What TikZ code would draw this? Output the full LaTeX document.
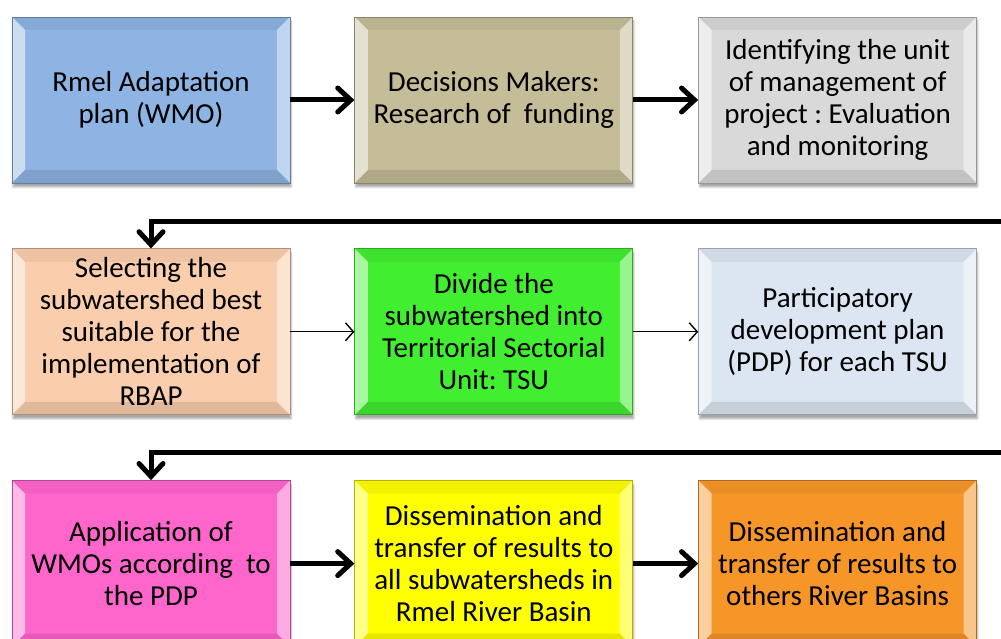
\documentclass[tikz,border=0pt]{standalone}
\usepackage{fontspec}
\setmainfont{Carlito}
\usetikzlibrary{arrows.meta,positioning,shadows.blur}

\definecolor{azul}{RGB}{142,180,227}
\definecolor{caqui}{RGB}{196,189,151}
\definecolor{gris}{RGB}{217,217,217}
\definecolor{melocoton}{RGB}{250,206,172}
\definecolor{verde}{RGB}{66,238,48}
\definecolor{celeste}{RGB}{220,230,242}
\definecolor{rosa}{RGB}{255,102,204}
\definecolor{amarillo}{RGB}{255,255,0}
\definecolor{naranja}{RGB}{247,150,40}

\frenchspacing

\begin{document}
\begin{tikzpicture}[
    x=1pt,y=1pt,
    font=\fontsize{29}{32}\selectfont,
    caja/.style={rectangle,fill=#1,draw=#1!70!black,line width=0.8pt,
      minimum width=278pt,minimum height=166pt,inner sep=2pt,align=center,
      blur shadow={shadow xshift=1pt,shadow yshift=-4pt,shadow opacity=35},
      bisel},
    bisel/.style={path picture={
      \def\pb{path picture bounding box}
      \fill[white,opacity=.55] (\pb.north west) -- ([shift={(13,-13)}]\pb.north west)
        -- ([shift={(13,13)}]\pb.south west) -- (\pb.south west) -- cycle;
      \fill[white,opacity=.45] (\pb.north east) -- ([shift={(-13,-13)}]\pb.north east)
        -- ([shift={(-13,13)}]\pb.south east) -- (\pb.south east) -- cycle;
      \fill[black,opacity=.05] (\pb.north west) -- ([shift={(13,-13)}]\pb.north west)
        -- ([shift={(-13,-13)}]\pb.north east) -- (\pb.north east) -- cycle;
      \fill[black,opacity=.10] (\pb.south west) -- ([shift={(13,13)}]\pb.south west)
        -- ([shift={(-13,13)}]\pb.south east) -- (\pb.south east) -- cycle;
    }},
    flechagruesa/.style={line width=5pt,-{Straight Barb[length=13pt,width=24pt,line cap=round]}},
    flechafina/.style={line width=1.4pt,-{Straight Barb[length=8pt,width=18pt]}}]

  \clip (0,0) rectangle (1001,638);

  %% ---- first row
  \node[caja=azul] (plan) at (151,538) {Rmel Adaptation\\plan (WMO)};
  \node[caja=caqui,right=64pt of plan] (decision) {Decisions Makers:\\Research of~ funding};
  \node[caja=gris,right=65pt of decision] (unidad) {Identifying the unit\\of management of\\project : Evaluation\\and monitoring};

  %% ---- second row
  \node[caja=melocoton,below=65pt of plan] (seleccion) {Selecting the\\subwatershed best\\suitable for the\\implementation of\\RBAP};
  \node[caja=verde,right=64pt of seleccion] (division) {Divide the\\subwatershed into\\Territorial Sectorial\\Unit: TSU};
  \node[caja=celeste,right=65pt of division] (pdp) {Participatory\\development plan\\(PDP) for each TSU};

  %% ---- third row
  \node[caja=rosa,below=65pt of seleccion] (aplicacion) {Application of\\WMOs according~ to\\the PDP};
  \node[caja=amarillo,right=64pt of aplicacion] (difusion) {Dissemination and\\transfer of results to\\all subwatersheds in\\Rmel River Basin};
  \node[caja=naranja,right=65pt of difusion] (otras) {Dissemination and\\transfer of results to\\others River Basins};

  %% ---- arrows
  \draw[flechagruesa] (plan) -- (decision);
  \draw[flechagruesa] (decision) -- (unidad);
  \draw[flechafina] (seleccion) -- (division);
  \draw[flechafina] (division) -- (pdp);
  \draw[flechagruesa] (aplicacion) -- (difusion);
  \draw[flechagruesa] (difusion) -- (otras);

  % returns coming in from the right edge
  \coordinate (vuelta1) at (1010,416);
  \coordinate (vuelta2) at (1010,186);
  \draw[flechagruesa] (vuelta1) -| (seleccion);
  \draw[flechagruesa] (vuelta2) -| (aplicacion);

\end{tikzpicture}
\end{document}
